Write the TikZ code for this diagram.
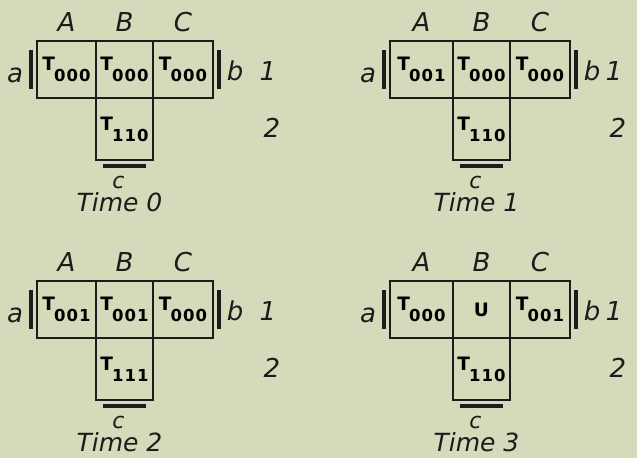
\documentclass[tikz,border=0pt]{standalone}
\usepackage{fontspec}
\usetikzlibrary{positioning,calc}

\newfontfamily\labfont{DejaVu Sans}
\newfontfamily\cellfont{DejaVu Sans}[LetterSpace=6]

\definecolor{paper}{RGB}{214,217,186}
\definecolor{ink}{RGB}{28,28,28}

\newcommand*{\Tsub}[1]{{\cellfont\bfseries\fontsize{18.5}{20}\selectfont T\kern-1pt\raisebox{-11pt}{\fontsize{16.5}{18}\selectfont #1}}}
\newcommand*{\Ucell}{{\cellfont\bfseries\fontsize{18.5}{20}\selectfont U}}

\begin{document}
\begin{tikzpicture}[x=1pt,y=-1pt,
	cell/.style={draw=ink, line width=1.6pt, minimum width=58pt, minimum height=57pt, inner sep=0pt, outer sep=0pt},
	lab/.style={font=\labfont\itshape\fontsize{26}{29}\selectfont, text=ink, inner sep=0pt, anchor=base},
	small lab/.style={lab, font=\labfont\itshape\fontsize{22}{25}\selectfont},
	time lab/.style={lab, font=\labfont\itshape\fontsize{25}{28}\selectfont},
	bar/.style={draw=ink, line width=4.5pt}]

	% paper
	\fill[paper] (0,0) rectangle (637,458);
	\useasboundingbox (0,0) rectangle (637,458);

	\foreach \n/\dx/\dy/\wa/\dn/\ca/\cb/\cc/\cd in {
		0/0/0/59/55/{\Tsub{000}}/{\Tsub{000}}/{\Tsub{000}}/{\Tsub{110}},
		1/353/0/63/44/{\Tsub{001}}/{\Tsub{000}}/{\Tsub{000}}/{\Tsub{110}},
		2/0/240/59/55/{\Tsub{001}}/{\Tsub{001}}/{\Tsub{000}}/{\Tsub{111}},
		3/353/240/63/44/{\Tsub{000}}/{\Ucell}/{\Tsub{001}}/{\Tsub{110}}} {
	\begin{scope}[shift={(\dx,\dy)}]
		% cells
		\node[cell, minimum width=\wa pt, anchor=north west] (A\n) at (37,41) {\ca};
		\node[cell, minimum width=57pt, right=0pt of A\n] (B\n) {\cb};
		\node[cell, minimum width=60pt, right=0pt of B\n] (C\n) {\cc};
		\node[cell, minimum width=57pt, minimum height=62pt, below=0pt of B\n] (D\n) {\cd};

		% ends
		\draw[bar] ([shift={(-6,9)}]A\n.north west) -- ([shift={(-6,-9)}]A\n.south west);
		\draw[bar] ([shift={(6,9)}]C\n.north east) -- ([shift={(6,-9)}]C\n.south east);
		\draw[bar] ([shift={(7,6)}]D\n.south west) -- ([shift={(-7,6)}]D\n.south east);

		% labels
		\node[lab] (la\n) at ($(A\n.north)+(0,-10)$) {A};
		\node[lab] (lb\n) at ($(B\n.north)+(0,-10)$) {B};
		\node[lab] (lc\n) at ($(C\n.north)+(0,-10)$) {C};
		\node[lab] (ea\n) at ($(A\n.west)+(-22,12.5)$) {a};
		\node[lab] (eb\n) at ($(C\n.east)+(22,10.5)$) {b};
		\node[small lab] (ec\n) at ($(D\n.south)+(-6,28)$) {c};
		\node[lab] (one\n) at ($(C\n.east)+(\dn,10.5)$) {1};
		\node[lab] (two\n) at ($(C\n.east)+(\dn+4,67.5)$) {2};
		\node[time lab] (time\n) at ($(D\n.south)+(-5,51.5)$) {Time \n};
	\end{scope}
	}

\end{tikzpicture}
\end{document}
